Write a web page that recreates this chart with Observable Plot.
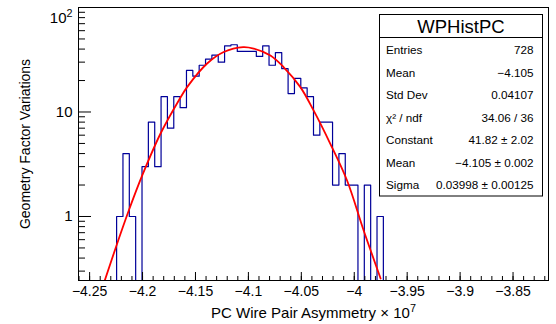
<!DOCTYPE html>
<html>
<head>
<meta charset="utf-8">
<script src="https://cdn.jsdelivr.net/npm/d3@7"></script>
<script src="https://cdn.jsdelivr.net/npm/@observablehq/plot@0.6"></script>
<style>
  html, body { margin: 0; padding: 0; background: #fff; }
  svg { display: block; }
</style>
</head>
<body>
<div id="chart"></div>
<script>
// ---- data ----
const histName = "WPHistPC";
const xMin = -4.2605;
const binWidth = 0.006;
const nBins = 74;
const counts = [
  0, 0, 0, 0, 0, 0, 1, 4, 1, 0,
  3, 8, 3, 14, 7, 14, 11, 25, 22, 28,
  32, 35, 30, 43, 44, 38, 38, 38, 34, 43,
  28, 37, 26, 15, 21, 17, 14, 6, 8, 8,
  2, 4, 2, 2, 0, 2, 0, 1, 0, 0,
  0, 0, 0, 0, 0, 0, 0, 0, 0, 0,
  0, 0, 0, 0, 0, 0, 0, 0, 0, 0,
  0, 0, 0, 0
];
// red fit curve
const fitX = [-4.2357, -4.2246, -4.2130, -4.2003, -4.1831, -4.1658, -4.1579, -4.1390, -4.1233, -4.1050,
              -4.0950, -4.0792, -4.0666, -4.0509, -4.0383, -4.0226, -4.0068, -3.9911, -3.9751];
const fitY = [0.244, 0.528, 1.14, 2.47, 6.19, 12.9, 17.3, 29.1, 37.5, 41.8,
              40.5, 34.7, 26.8, 17.3, 10.3, 4.96, 2.21, 0.735, 0.255];

const yDomain = [0.244, 100];
const xMajorTicks = [-4.25, -4.2, -4.15, -4.1, -4.05, -4, -3.95, -3.9, -3.85];
const xTickLabels = ["\u22124.25", "\u22124.2", "\u22124.15", "\u22124.1", "\u22124.05", "\u22124", "\u22123.95", "\u22123.9", "\u22123.85"];
const xMinorTicks = d3.range(-426, -381).map(d => d / 100);
const yMajorTicks = [1, 10, 100];
const yTickLabels = ["1", "10", "10\u00B2"];
const yMinorTicks = [0.3, 0.4, 0.5, 0.6, 0.7, 0.8, 0.9, 2, 3, 4, 5, 6, 7, 8, 9, 20, 30, 40, 50, 60, 70, 80, 90];

const xTitle = "PC Wire Pair Asymmetry \u00D7 10\u2077";
const yTitle = "Geometry Factor Variations";

const statLabels = ["Entries", "Mean", "Std Dev", "\u03C7\u00B2 / ndf", "Constant", "Mean", "Sigma"];
const statValues = ["728", "\u22124.105", "0.04107", "34.06 / 36", "41.82 \u00B1 2.02", "\u22124.105 \u00B1 0.002", "0.03998 \u00B1 0.00125"];

// ---- build ----
const xMax = xMin + nBins * binWidth;
const yFloor = 0.15; // below the visible range, clipped
const histPts = counts.map((c, i) => ({x: xMin + i * binWidth, y: c > 0 ? c : yFloor}));
histPts.push({x: xMax, y: yFloor});
const fitPts = fitX.map((x, i) => ({x, y: fitY[i]}));

const W = 556, H = 324;
const mL = 78, mR = 8, mT = 7, mB = 44;
const innerW = W - mL - mR, innerH = H - mT - mB;
const font = "'Liberation Sans', Arial, Helvetica, sans-serif";

const xLab = new Map(xMajorTicks.map((d, i) => [d, xTickLabels[i]]));
const yLab = new Map(yMajorTicks.map((d, i) => [d, yTickLabels[i]]));

const svg = Plot.plot({
  width: W, height: H,
  marginLeft: mL, marginRight: mR, marginTop: mT, marginBottom: mB,
  style: {fontFamily: font, fontSize: "14px", background: "#fff", color: "#000"},
  x: {domain: [xMin, xMax]},
  y: {type: "log", domain: yDomain},
  marks: [
    Plot.line(histPts, {x: "x", y: "y", curve: "step-after", stroke: "#000099", strokeWidth: 1.2, clip: true}),
    Plot.line(fitPts, {x: "x", y: "y", curve: "catmull-rom", stroke: "#ff0000", strokeWidth: 1.8, clip: true}),
    Plot.ruleX(xMajorTicks, {x: d => d, insetTop: innerH - 8, stroke: "#000"}),
    Plot.ruleX(xMinorTicks, {x: d => d, insetTop: innerH - 4, stroke: "#000"}),
    Plot.ruleY(yMajorTicks, {y: d => d, insetRight: innerW - 13, stroke: "#000"}),
    Plot.ruleY(yMinorTicks, {y: d => d, insetRight: innerW - 7, stroke: "#000"}),
    Plot.axisX({ticks: xMajorTicks, tickSize: 0, tickPadding: 6, tickFormat: d => xLab.get(d), label: null, fontSize: 14}),
    Plot.axisY({ticks: yMajorTicks, tickSize: 0, tickPadding: 6, tickFormat: d => yLab.get(d), label: null, fontSize: 15}),
    Plot.text([xTitle], {text: d => d, frameAnchor: "bottom", dy: 37, lineAnchor: "bottom", textAnchor: "middle", fontSize: 15}),
    Plot.text([yTitle], {text: d => d, frameAnchor: "left", dx: -52.5, rotate: -90, textAnchor: "middle", lineAnchor: "middle", fontSize: 14}),
    Plot.frame({stroke: "#000"})
  ]
});

const s = d3.select(svg);
// turn a trailing superscript character into a raised tspan (ROOT style)
function superscript(full, sup, dy) {
  s.selectAll("text").filter(function() { return this.textContent === full; }).each(function() {
    const t = d3.select(this);
    t.text(full.slice(0, -1));
    t.append("tspan").attr("font-size", "0.72em").attr("dy", dy).text(sup);
  });
}
// nudge the top "10²" label down so it stays inside the picture, as in the reference
s.selectAll("text").filter(function() { return this.textContent === "10\u00B2"; })
  .attr("dy", "0.7em");
superscript("10\u00B2", "2", "-0.55em");
superscript(xTitle, "7", "-0.5em");

// stats box
const box = {x: 379.5, y: 14.5, w: 163, h: 181.5, sep: 37.5};
const g = s.append("g").attr("font-family", font).attr("text-anchor", "start");
g.append("rect").attr("x", box.x).attr("y", box.y).attr("width", box.w).attr("height", box.h)
  .attr("fill", "#fff").attr("stroke", "#000");
g.append("line").attr("x1", box.x).attr("x2", box.x + box.w).attr("y1", box.sep).attr("y2", box.sep).attr("stroke", "#000");
g.append("text").attr("x", box.x + box.w / 2).attr("y", 32.5).attr("text-anchor", "middle")
  .attr("font-size", 18.5).text(histName);
const rowY0 = 54, rowStep = 22.5;
statLabels.forEach((l, i) => {
  g.append("text").attr("x", 386).attr("y", rowY0 + i * rowStep).attr("font-size", 11.7)
    .attr("text-anchor", "start").text(l);
  g.append("text").attr("x", 533.5).attr("y", rowY0 + i * rowStep).attr("font-size", 11.7)
    .attr("text-anchor", "end").text(statValues[i]);
});

document.getElementById("chart").appendChild(svg);
</script>
</body>
</html>
